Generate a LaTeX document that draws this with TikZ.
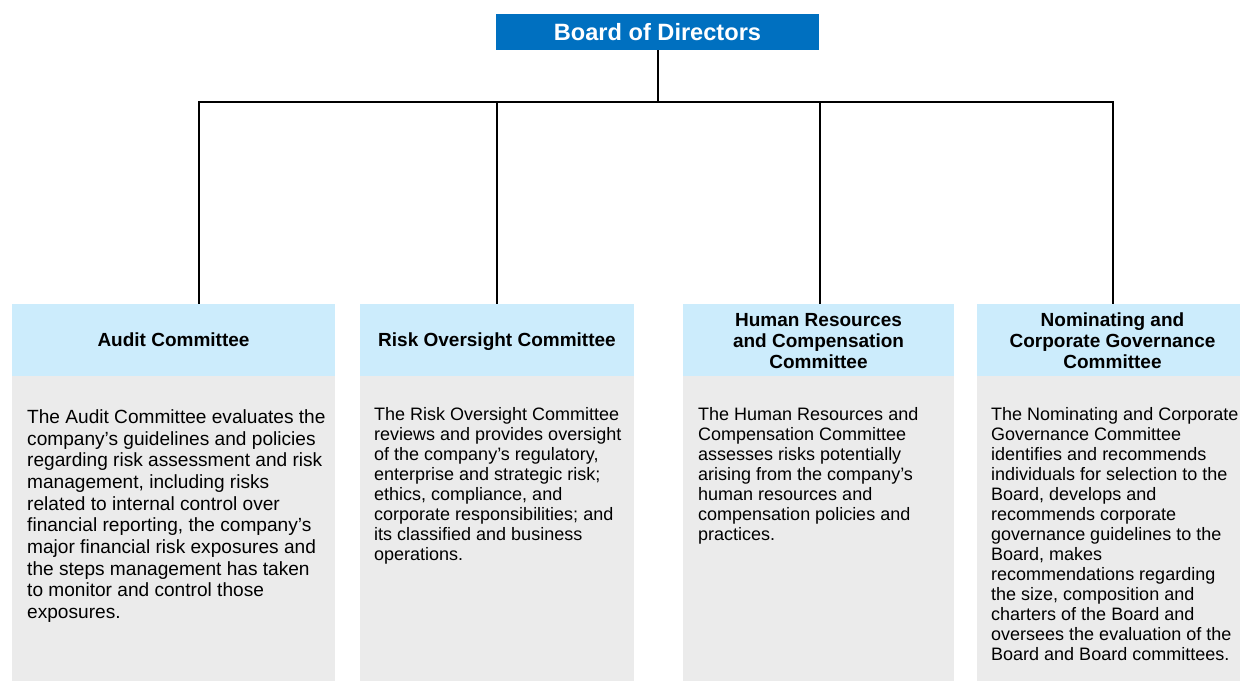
\documentclass[tikz,border=0pt]{standalone}
\usepackage{fontspec}
\setmainfont{Liberation Sans}
\usetikzlibrary{positioning, calc}
\definecolor{boardblue}{RGB}{0,112,192}
\definecolor{headblue}{RGB}{204,236,252}
\definecolor{bodygray}{RGB}{235,235,235}

\begin{document}
\begin{tikzpicture}[x=1pt, y=-1pt,
		head/.style={fill=headblue, minimum height=72pt, inner sep=0pt, align=center, text height=13.7pt, text depth=0pt, font=\bfseries\fontsize{19}{21}\selectfont},
		desc/.style={anchor=north west, inner sep=0pt, align=left, font=\fontsize{18}{20}\selectfont},
		link/.style={line width=2pt}]
		\useasboundingbox (0,0) rectangle (1240,681);
		\node[fill=boardblue, text=white, minimum width=323pt, minimum height=36pt, inner sep=0pt, font=\bfseries\fontsize{23.6}{26}\selectfont] (board) at (657.5,32) {Board of Directors};
		\node[head, minimum width=323pt] (audit) at (173.5,340) {Audit Committee};
		\node[head, minimum width=274pt] (risk) at (497,340) {Risk Oversight Committee};
		\node[head, minimum width=271pt, text height=57.7pt] (hr) at (818.5,340) {Human Resources\\and Compensation\\Committee};
		\node[head, minimum width=271pt, text height=57.7pt] (nom) at (1112.5,340) {Nominating and\\Corporate Governance\\Committee};
		\foreach \n in {audit, risk, hr, nom}{
			\fill[bodygray] (\n.south west) rectangle (\n.east |- 0,681);
		}
		\node[desc, font=\fontsize{19.1}{21.67}\selectfont] (audittext) at (27,409.5) {The Audit Committee evaluates the\\company's guidelines and policies\\regarding risk assessment and risk\\management, including risks\\related to internal control over\\financial reporting, the company's\\major financial risk exposures and\\the steps management has taken\\to monitor and control those\\exposures.};
		\node[desc] (risktext) at (374,407) {The Risk Oversight Committee\\reviews and provides oversight\\of the company's regulatory,\\enterprise and strategic risk;\\ethics, compliance, and\\corporate responsibilities; and\\its classified and business\\operations.};
		\node[desc] (hrtext) at (698,407) {The Human Resources and\\Compensation Committee\\assesses risks potentially\\arising from the company's\\human resources and\\compensation policies and\\practices.};
		\node[desc] (nomtext) at (991,407) {The Nominating and Corporate\\Governance Committee\\identifies and recommends\\individuals for selection to the\\Board, develops and\\recommends corporate\\governance guidelines to the\\Board, makes\\recommendations regarding\\the size, composition and\\charters of the Board and\\oversees the evaluation of the\\Board and Board committees.};
		\coordinate (bus) at (board.south |- 0,102);
		\draw[link] (board.south) -- (bus);
		\draw[link] (199,0 |- audit.north) |- (bus) -| (1113,0 |- nom.north);
		\draw[link] (risk.north) -- (risk.north |- bus);
		\draw[link] (820,0 |- hr.north) -- (820,0 |- bus);
	\end{tikzpicture}
\end{document}
